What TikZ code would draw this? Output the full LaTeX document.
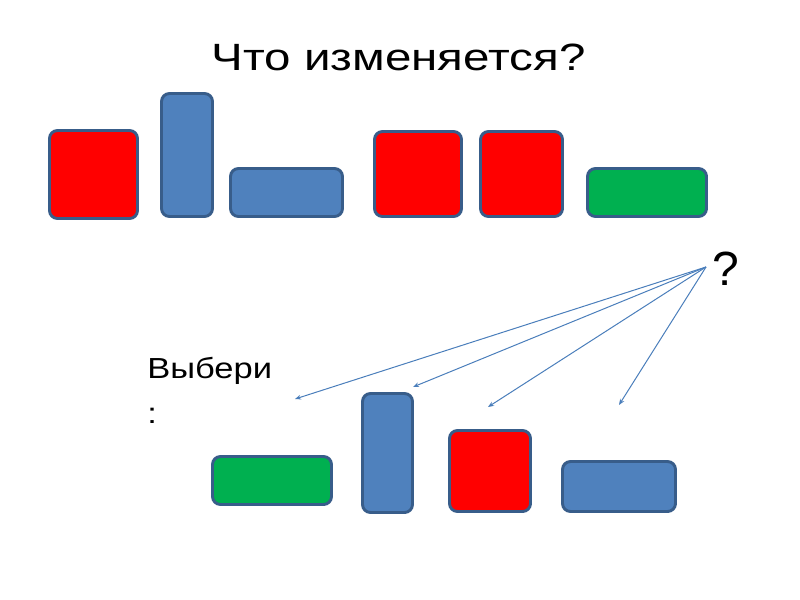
\documentclass[tikz,border=0pt]{standalone}
\usepackage{fontspec}
\setmainfont{Liberation Sans}
\newfontfamily\titlefont[FakeStretch=1.25]{Liberation Sans}
\newfontfamily\labelfont[FakeStretch=1.19]{Liberation Sans}
\usetikzlibrary{arrows.meta}
\definecolor{edgeblue}{HTML}{385D8A}
\definecolor{fillblue}{HTML}{4F81BD}
\definecolor{fillred}{HTML}{FF0000}
\definecolor{fillgreen}{HTML}{00B050}
\definecolor{arrowblue}{HTML}{4A7EBB}
\tikzset{
  x=0.75pt, y=-0.75pt,
  shapebox/.style={draw=edgeblue, line width=2.2pt, rounded corners=6pt,
    rectangle, inner sep=0pt, outer sep=0pt},
  redbox/.style={shapebox, fill=fillred},
  bluebox/.style={shapebox, fill=fillblue},
  greenbox/.style={shapebox, fill=fillgreen},
  pointer/.style={draw=arrowblue, line width=0.75pt,
    -{Stealth[length=4.5pt,width=3.5pt]}},
}
\begin{document}
\begin{tikzpicture}
\useasboundingbox (0,0) rectangle (800,600);
% title
\node[anchor=base, inner sep=0pt, font=\titlefont\fontsize{28.5}{34}\selectfont] (title) at (398.5,70) {Что изменяется?};
% top row
\node[redbox, minimum width=88*0.75pt, minimum height=88*0.75pt] (r1) at (93.5,174.5) {};
\node[bluebox, minimum width=51*0.75pt, minimum height=123*0.75pt] (bt1) at (187,155) {};
\node[bluebox, minimum width=112*0.75pt, minimum height=48*0.75pt] (bw1) at (286.5,192.5) {};
\node[redbox, minimum width=87*0.75pt, minimum height=85*0.75pt] (r2) at (418,174) {};
\node[redbox, minimum width=82*0.75pt, minimum height=85*0.75pt] (r3) at (521.5,174) {};
\node[greenbox, minimum width=119*0.75pt, minimum height=48*0.75pt] (g1) at (647,192.5) {};
% question mark
\node[anchor=base, inner sep=0pt, font=\fontsize{36}{40}\selectfont] (q) at (726,285) {?};
% choose label
\node[anchor=base west, align=left, inner sep=0pt, font=\labelfont\fontsize{21.75}{33.75}\selectfont] (pick) at (147,423) {Выбери\\:};
% bottom row
\node[greenbox, minimum width=119*0.75pt, minimum height=48*0.75pt] (g2) at (272,480.5) {};
\node[bluebox, minimum width=50*0.75pt, minimum height=119*0.75pt] (bt2) at (387.5,453) {};
\node[redbox, minimum width=81*0.75pt, minimum height=81*0.75pt] (r4) at (490,471) {};
\node[bluebox, minimum width=113*0.75pt, minimum height=50*0.75pt] (bw2) at (619,486.5) {};
% arrows
\coordinate (src) at (706,267);
\coordinate (t1) at (295,399);
\coordinate (t2) at (413,387);
\coordinate (t3) at (488,407);
\coordinate (t4) at (619,405);
\draw[pointer] (src) -- (t1);
\draw[pointer] (src) -- (t2);
\draw[pointer] (src) -- (t3);
\draw[pointer] (src) -- (t4);
\end{tikzpicture}
\end{document}
